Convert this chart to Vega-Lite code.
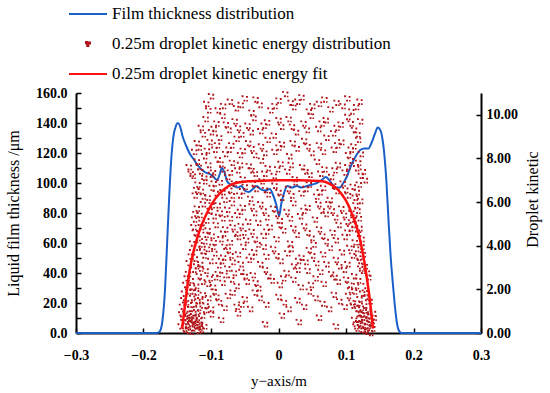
{
  "$schema": "https://vega.github.io/schema/vega-lite/v6.json",
  "autosize": {"type": "none"},
  "width": 405,
  "height": 240,
  "padding": {"left": 76, "top": 93, "right": 69, "bottom": 60},
  "background": "white",
  "config": {
    "view": {"stroke": null},
    "font": "Liberation Serif",
    "axis": {"grid": false, "domainColor": "black", "domainWidth": 2, "tickColor": "black", "tickWidth": 1.5,
      "labelFont": "Liberation Serif", "labelFontSize": 14, "labelFontWeight": "bold", "labelColor": "black",
      "titleFont": "Liberation Serif", "titleFontSize": 16, "titleFontWeight": "normal", "titleColor": "black"}
  },
  "datasets": {
    "film": [
      {"x": -0.3, "t": 0}, {"x": -0.2, "t": 0}, {"x": -0.18, "t": 0}, {"x": -0.176, "t": 1}, {"x": -0.172, "t": 8},
      {"x": -0.168, "t": 30}, {"x": -0.165, "t": 60}, {"x": -0.162, "t": 90}, {"x": -0.159, "t": 115}, {"x": -0.156, "t": 130},
      {"x": -0.152, "t": 138}, {"x": -0.149, "t": 140}, {"x": -0.146, "t": 138}, {"x": -0.142, "t": 131}, {"x": -0.137, "t": 125},
      {"x": -0.132, "t": 120}, {"x": -0.126, "t": 116}, {"x": -0.12, "t": 112}, {"x": -0.114, "t": 109}, {"x": -0.108, "t": 107},
      {"x": -0.102, "t": 106}, {"x": -0.096, "t": 104}, {"x": -0.091, "t": 102}, {"x": -0.087, "t": 106}, {"x": -0.084, "t": 110},
      {"x": -0.08, "t": 107}, {"x": -0.076, "t": 101}, {"x": -0.071, "t": 99}, {"x": -0.066, "t": 98}, {"x": -0.06, "t": 97},
      {"x": -0.055, "t": 98}, {"x": -0.05, "t": 95}, {"x": -0.044, "t": 94}, {"x": -0.038, "t": 96}, {"x": -0.032, "t": 98},
      {"x": -0.027, "t": 96}, {"x": -0.02, "t": 95}, {"x": -0.013, "t": 96}, {"x": -0.008, "t": 92}, {"x": -0.003, "t": 85},
      {"x": 0.001, "t": 78}, {"x": 0.004, "t": 86}, {"x": 0.008, "t": 93}, {"x": 0.013, "t": 98}, {"x": 0.02, "t": 97},
      {"x": 0.027, "t": 98}, {"x": 0.034, "t": 97}, {"x": 0.042, "t": 98}, {"x": 0.05, "t": 99}, {"x": 0.057, "t": 100},
      {"x": 0.064, "t": 102}, {"x": 0.07, "t": 104}, {"x": 0.075, "t": 102}, {"x": 0.08, "t": 99}, {"x": 0.086, "t": 97},
      {"x": 0.091, "t": 97}, {"x": 0.096, "t": 100}, {"x": 0.101, "t": 104}, {"x": 0.106, "t": 110}, {"x": 0.111, "t": 115},
      {"x": 0.116, "t": 119}, {"x": 0.121, "t": 122}, {"x": 0.127, "t": 123}, {"x": 0.133, "t": 123}, {"x": 0.138, "t": 127},
      {"x": 0.143, "t": 133}, {"x": 0.147, "t": 137}, {"x": 0.15, "t": 136}, {"x": 0.153, "t": 132}, {"x": 0.157, "t": 118},
      {"x": 0.16, "t": 100}, {"x": 0.163, "t": 75}, {"x": 0.166, "t": 52}, {"x": 0.169, "t": 35}, {"x": 0.172, "t": 20},
      {"x": 0.175, "t": 8}, {"x": 0.178, "t": 2}, {"x": 0.182, "t": 0}, {"x": 0.2, "t": 0}, {"x": 0.3, "t": 0}
    ],
    "fit": [
      {"x": -0.143, "k": 0.2}, {"x": -0.14, "k": 0.9}, {"x": -0.136, "k": 1.9}, {"x": -0.132, "k": 2.8}, {"x": -0.127, "k": 3.6},
      {"x": -0.121, "k": 4.3}, {"x": -0.114, "k": 4.95}, {"x": -0.106, "k": 5.5}, {"x": -0.098, "k": 5.95}, {"x": -0.09, "k": 6.3},
      {"x": -0.08, "k": 6.6}, {"x": -0.07, "k": 6.8}, {"x": -0.06, "k": 6.9}, {"x": -0.045, "k": 6.95}, {"x": -0.03, "k": 6.97},
      {"x": 0, "k": 7.0}, {"x": 0.03, "k": 7.0}, {"x": 0.05, "k": 6.98}, {"x": 0.065, "k": 6.95}, {"x": 0.075, "k": 6.85},
      {"x": 0.085, "k": 6.65}, {"x": 0.094, "k": 6.35}, {"x": 0.102, "k": 5.95}, {"x": 0.109, "k": 5.45}, {"x": 0.116, "k": 4.85},
      {"x": 0.122, "k": 4.1}, {"x": 0.127, "k": 3.3}, {"x": 0.131, "k": 2.5}, {"x": 0.135, "k": 1.6}, {"x": 0.138, "k": 0.8}, {"x": 0.14, "k": 0.2}
    ],
    "drops": [
      {"x": -0.145, "k": 0.3}, {"x": -0.142, "k": 0.7}, {"x": -0.14, "k": 0.2}, {"x": -0.138, "k": 0.9}, {"x": -0.136, "k": 0.5},
      {"x": -0.134, "k": 0.1}, {"x": -0.133, "k": 0.8}, {"x": -0.131, "k": 0.4}, {"x": -0.129, "k": 0.6}, {"x": -0.128, "k": 0.2},
      {"x": -0.126, "k": 0.9}, {"x": -0.125, "k": 0.5}, {"x": -0.123, "k": 0.3}, {"x": -0.121, "k": 0.7}, {"x": -0.119, "k": 0.1},
      {"x": -0.118, "k": 0.6}, {"x": -0.116, "k": 0.4}, {"x": -0.113, "k": 0.8}, {"x": -0.11, "k": 0.3}, {"x": -0.141, "k": 0.5},
      {"x": -0.137, "k": 0.35}, {"x": -0.132, "k": 0.65}, {"x": -0.127, "k": 0.45}, {"x": -0.122, "k": 0.95}, {"x": -0.117, "k": 0.25},
      {"x": -0.085, "k": 0.6}, {"x": -0.06, "k": 0.9}, {"x": -0.02, "k": 0.4}, {"x": 0.005, "k": 0.8}, {"x": 0.03, "k": 0.5},
      {"x": 0.06, "k": 0.7}, {"x": 0.085, "k": 0.3}, {"x": -0.1, "k": 0.85},
      {"x": 0.112, "k": 0.6}, {"x": 0.116, "k": 0.2}, {"x": 0.119, "k": 0.9}, {"x": 0.121, "k": 0.4}, {"x": 0.124, "k": 0.7},
      {"x": 0.126, "k": 0.1}, {"x": 0.128, "k": 0.5}, {"x": 0.13, "k": 0.8}, {"x": 0.132, "k": 0.3}, {"x": 0.134, "k": 0.6},
      {"x": 0.136, "k": 0.0}, {"x": 0.137, "k": 0.4}, {"x": 0.139, "k": 0.2}, {"x": 0.141, "k": 0.7}, {"x": 0.125, "k": 0.35},
      {"x": 0.133, "k": 0.95}, {"x": 0.118, "k": 0.45}, {"x": 0.129, "k": 0.15}, {"x": 0.138, "k": 0.55}, {"x": 0.122, "k": 0.85},
      {"x": -0.143, "k": 1.2}, {"x": -0.14, "k": 1.8}, {"x": -0.137, "k": 1.4}, {"x": -0.134, "k": 1.9}, {"x": -0.131, "k": 1.1},
      {"x": -0.128, "k": 1.6}, {"x": -0.125, "k": 1.3}, {"x": -0.122, "k": 1.85}, {"x": -0.119, "k": 1.15}, {"x": -0.116, "k": 1.5},
      {"x": -0.112, "k": 1.75}, {"x": -0.108, "k": 1.25}, {"x": -0.104, "k": 1.6}, {"x": -0.1, "k": 1.1}, {"x": -0.096, "k": 1.9},
      {"x": -0.088, "k": 1.4}, {"x": -0.075, "k": 1.7}, {"x": -0.062, "k": 1.2}, {"x": -0.05, "k": 1.55}, {"x": -0.035, "k": 1.85},
      {"x": -0.018, "k": 1.3}, {"x": 0.0, "k": 1.65}, {"x": 0.015, "k": 1.1}, {"x": 0.028, "k": 1.5}, {"x": 0.045, "k": 1.9},
      {"x": 0.065, "k": 1.35}, {"x": 0.082, "k": 1.75},
      {"x": 0.098, "k": 1.2}, {"x": 0.103, "k": 1.7}, {"x": 0.108, "k": 1.4}, {"x": 0.112, "k": 1.9}, {"x": 0.116, "k": 1.1},
      {"x": 0.12, "k": 1.55}, {"x": 0.124, "k": 1.8}, {"x": 0.127, "k": 1.25}, {"x": 0.13, "k": 1.6}, {"x": 0.133, "k": 1.05},
      {"x": 0.117, "k": 1.35}, {"x": 0.106, "k": 1.95},
      {"x": -0.138, "k": 2.2}, {"x": -0.134, "k": 2.7}, {"x": -0.13, "k": 2.4}, {"x": -0.126, "k": 2.9}, {"x": -0.122, "k": 2.15},
      {"x": -0.118, "k": 2.6}, {"x": -0.113, "k": 2.35}, {"x": -0.108, "k": 2.85}, {"x": -0.102, "k": 2.5}, {"x": -0.097, "k": 2.1},
      {"x": -0.09, "k": 2.7}, {"x": -0.083, "k": 2.3}, {"x": -0.076, "k": 2.95}, {"x": -0.07, "k": 2.45}, {"x": -0.062, "k": 2.15},
      {"x": -0.055, "k": 2.8}, {"x": -0.047, "k": 2.35}, {"x": -0.038, "k": 2.65}, {"x": -0.03, "k": 2.05}, {"x": -0.02, "k": 2.9},
      {"x": -0.01, "k": 2.4}, {"x": 0.002, "k": 2.2}, {"x": 0.012, "k": 2.75}, {"x": 0.022, "k": 2.45}, {"x": 0.033, "k": 2.1},
      {"x": 0.043, "k": 2.85}, {"x": 0.055, "k": 2.5}, {"x": 0.067, "k": 2.25}, {"x": 0.078, "k": 2.7}, {"x": 0.088, "k": 2.35},
      {"x": 0.097, "k": 2.9}, {"x": 0.105, "k": 2.2}, {"x": 0.112, "k": 2.6}, {"x": 0.118, "k": 2.4}, {"x": 0.124, "k": 2.85},
      {"x": 0.129, "k": 2.15}, {"x": 0.133, "k": 2.55},
      {"x": -0.133, "k": 3.2}, {"x": -0.128, "k": 3.7}, {"x": -0.124, "k": 3.4}, {"x": -0.12, "k": 3.9}, {"x": -0.116, "k": 3.15},
      {"x": -0.111, "k": 3.55}, {"x": -0.106, "k": 3.85}, {"x": -0.101, "k": 3.3}, {"x": -0.095, "k": 3.65}, {"x": -0.089, "k": 3.1},
      {"x": -0.082, "k": 3.45}, {"x": -0.075, "k": 3.8}, {"x": -0.068, "k": 3.25}, {"x": -0.06, "k": 3.6}, {"x": -0.052, "k": 3.95},
      {"x": -0.044, "k": 3.35}, {"x": -0.036, "k": 3.7}, {"x": -0.027, "k": 3.15}, {"x": -0.018, "k": 3.5}, {"x": -0.008, "k": 3.85},
      {"x": 0.003, "k": 3.3}, {"x": 0.013, "k": 3.65}, {"x": 0.023, "k": 3.05}, {"x": 0.034, "k": 3.45}, {"x": 0.045, "k": 3.8},
      {"x": 0.056, "k": 3.2}, {"x": 0.066, "k": 3.6}, {"x": 0.076, "k": 3.9}, {"x": 0.085, "k": 3.35}, {"x": 0.094, "k": 3.7},
      {"x": 0.102, "k": 3.15}, {"x": 0.109, "k": 3.55}, {"x": 0.115, "k": 3.85}, {"x": 0.12, "k": 3.3}, {"x": 0.125, "k": 3.6},
      {"x": 0.128, "k": 3.05}, {"x": -0.08, "k": 3.95}, {"x": 0.04, "k": 3.25},
      {"x": -0.128, "k": 4.1}, {"x": -0.124, "k": 4.6}, {"x": -0.12, "k": 4.35}, {"x": -0.115, "k": 4.85}, {"x": -0.11, "k": 4.2},
      {"x": -0.105, "k": 4.7}, {"x": -0.099, "k": 4.45}, {"x": -0.093, "k": 4.95}, {"x": -0.086, "k": 4.3}, {"x": -0.079, "k": 4.75},
      {"x": -0.072, "k": 4.15}, {"x": -0.064, "k": 4.55}, {"x": -0.056, "k": 4.9}, {"x": -0.048, "k": 4.25}, {"x": -0.04, "k": 4.65},
      {"x": -0.031, "k": 4.05}, {"x": -0.022, "k": 4.45}, {"x": -0.013, "k": 4.85}, {"x": -0.003, "k": 4.3}, {"x": 0.007, "k": 4.7},
      {"x": 0.017, "k": 4.1}, {"x": 0.027, "k": 4.5}, {"x": 0.038, "k": 4.9}, {"x": 0.049, "k": 4.35}, {"x": 0.06, "k": 4.75},
      {"x": 0.07, "k": 4.2}, {"x": 0.08, "k": 4.6}, {"x": 0.089, "k": 4.95}, {"x": 0.098, "k": 4.4}, {"x": 0.106, "k": 4.8},
      {"x": 0.113, "k": 4.15}, {"x": 0.118, "k": 4.55}, {"x": 0.123, "k": 4.3}, {"x": -0.06, "k": 4.4}, {"x": 0.052, "k": 4.05},
      {"x": -0.125, "k": 5.2}, {"x": -0.121, "k": 5.7}, {"x": -0.117, "k": 5.4}, {"x": -0.112, "k": 5.9}, {"x": -0.107, "k": 5.15},
      {"x": -0.102, "k": 5.6}, {"x": -0.096, "k": 5.35}, {"x": -0.09, "k": 5.85}, {"x": -0.083, "k": 5.25}, {"x": -0.076, "k": 5.65},
      {"x": -0.069, "k": 5.95}, {"x": -0.061, "k": 5.4}, {"x": -0.053, "k": 5.75}, {"x": -0.045, "k": 5.1}, {"x": -0.036, "k": 5.5},
      {"x": -0.027, "k": 5.9}, {"x": -0.018, "k": 5.3}, {"x": -0.008, "k": 5.7}, {"x": 0.002, "k": 5.15}, {"x": 0.012, "k": 5.55},
      {"x": 0.022, "k": 5.95}, {"x": 0.032, "k": 5.35}, {"x": 0.043, "k": 5.75}, {"x": 0.054, "k": 5.2}, {"x": 0.064, "k": 5.6},
      {"x": 0.074, "k": 5.9}, {"x": 0.084, "k": 5.3}, {"x": 0.093, "k": 5.7}, {"x": 0.101, "k": 5.1}, {"x": 0.108, "k": 5.5},
      {"x": 0.114, "k": 5.85}, {"x": 0.119, "k": 5.25}, {"x": -0.03, "k": 5.05}, {"x": 0.07, "k": 5.45},
      {"x": -0.124, "k": 6.3}, {"x": -0.12, "k": 6.8}, {"x": -0.115, "k": 6.5}, {"x": -0.11, "k": 6.95}, {"x": -0.105, "k": 6.2},
      {"x": -0.099, "k": 6.65}, {"x": -0.093, "k": 6.4}, {"x": -0.087, "k": 6.9}, {"x": -0.08, "k": 6.1}, {"x": -0.073, "k": 6.55},
      {"x": -0.066, "k": 6.85}, {"x": -0.058, "k": 6.3}, {"x": -0.05, "k": 6.7}, {"x": -0.042, "k": 6.15}, {"x": -0.034, "k": 6.6},
      {"x": -0.025, "k": 6.95}, {"x": -0.016, "k": 6.35}, {"x": -0.006, "k": 6.75}, {"x": 0.004, "k": 6.2}, {"x": 0.014, "k": 6.6},
      {"x": 0.024, "k": 6.9}, {"x": 0.034, "k": 6.4}, {"x": 0.045, "k": 6.8}, {"x": 0.056, "k": 6.25}, {"x": 0.066, "k": 6.65},
      {"x": 0.076, "k": 6.1}, {"x": 0.086, "k": 6.5}, {"x": 0.095, "k": 6.85}, {"x": 0.103, "k": 6.3}, {"x": 0.11, "k": 6.7},
      {"x": 0.116, "k": 6.45}, {"x": 0.121, "k": 6.05},
      {"x": -0.133, "k": 7.6}, {"x": -0.127, "k": 7.2}, {"x": -0.121, "k": 7.85}, {"x": -0.116, "k": 7.4}, {"x": -0.11, "k": 7.1},
      {"x": -0.104, "k": 7.7}, {"x": -0.097, "k": 7.35}, {"x": -0.09, "k": 7.95}, {"x": -0.083, "k": 7.5}, {"x": -0.076, "k": 7.15},
      {"x": -0.069, "k": 7.8}, {"x": -0.061, "k": 7.45}, {"x": -0.053, "k": 7.05}, {"x": -0.044, "k": 7.65}, {"x": -0.035, "k": 7.3},
      {"x": -0.026, "k": 7.9}, {"x": -0.016, "k": 7.55}, {"x": -0.007, "k": 7.2}, {"x": 0.003, "k": 7.75}, {"x": 0.013, "k": 7.4},
      {"x": 0.024, "k": 7.05}, {"x": 0.035, "k": 7.6}, {"x": 0.046, "k": 7.25}, {"x": 0.057, "k": 7.85}, {"x": 0.068, "k": 7.5},
      {"x": 0.078, "k": 7.15}, {"x": 0.088, "k": 7.7}, {"x": 0.098, "k": 7.35}, {"x": 0.107, "k": 7.9}, {"x": 0.115, "k": 7.55},
      {"x": 0.122, "k": 7.2}, {"x": 0.128, "k": 7.0},
      {"x": -0.125, "k": 8.3}, {"x": -0.118, "k": 8.5}, {"x": -0.11, "k": 8.1}, {"x": -0.102, "k": 8.75}, {"x": -0.095, "k": 8.4},
      {"x": -0.088, "k": 8.95}, {"x": -0.079, "k": 8.2}, {"x": -0.07, "k": 8.6}, {"x": -0.062, "k": 8.9}, {"x": -0.053, "k": 8.35},
      {"x": -0.045, "k": 8.7}, {"x": -0.036, "k": 8.15}, {"x": -0.026, "k": 8.55}, {"x": -0.016, "k": 8.85}, {"x": -0.006, "k": 8.3},
      {"x": 0.005, "k": 8.65}, {"x": 0.016, "k": 8.1}, {"x": 0.027, "k": 8.45}, {"x": 0.038, "k": 8.8}, {"x": 0.049, "k": 8.25},
      {"x": 0.06, "k": 8.6}, {"x": 0.071, "k": 8.95}, {"x": 0.082, "k": 8.4}, {"x": 0.093, "k": 8.75}, {"x": 0.103, "k": 8.15},
      {"x": 0.111, "k": 8.55}, {"x": 0.118, "k": 8.85},
      {"x": -0.115, "k": 9.4}, {"x": -0.108, "k": 9.8}, {"x": -0.1, "k": 9.2}, {"x": -0.092, "k": 9.6}, {"x": -0.083, "k": 9.95},
      {"x": -0.074, "k": 9.3}, {"x": -0.065, "k": 9.7}, {"x": -0.055, "k": 9.1}, {"x": -0.046, "k": 9.5}, {"x": -0.037, "k": 9.85},
      {"x": -0.027, "k": 9.25}, {"x": -0.017, "k": 9.65}, {"x": -0.007, "k": 9.05}, {"x": 0.004, "k": 9.45}, {"x": 0.015, "k": 9.8},
      {"x": 0.026, "k": 9.2}, {"x": 0.037, "k": 9.6}, {"x": 0.048, "k": 9.95}, {"x": 0.059, "k": 9.35}, {"x": 0.07, "k": 9.75},
      {"x": 0.081, "k": 9.15}, {"x": 0.092, "k": 9.55}, {"x": 0.102, "k": 9.9}, {"x": 0.112, "k": 9.3}, {"x": 0.121, "k": 9.7},
      {"x": -0.107, "k": 10.5}, {"x": -0.1, "k": 10.85}, {"x": -0.09, "k": 10.2}, {"x": -0.072, "k": 10.6}, {"x": -0.063, "k": 10.3},
      {"x": -0.05, "k": 10.75}, {"x": -0.04, "k": 10.1}, {"x": -0.028, "k": 10.45}, {"x": -0.012, "k": 10.2}, {"x": 0.0, "k": 10.65},
      {"x": 0.01, "k": 10.95}, {"x": 0.022, "k": 10.35}, {"x": 0.034, "k": 10.8}, {"x": 0.045, "k": 10.15}, {"x": 0.06, "k": 10.5},
      {"x": 0.077, "k": 10.25}, {"x": 0.095, "k": 10.4}, {"x": 0.108, "k": 10.15}, {"x": 0.12, "k": 10.6}, {"x": 0.018, "k": 10.55},
      {"x": -0.139, "k": 0.15}, {"x": -0.135, "k": 0.75}, {"x": -0.13, "k": 0.05}, {"x": -0.124, "k": 0.6}, {"x": -0.12, "k": 0.35},
      {"x": -0.115, "k": 0.15}, {"x": -0.144, "k": 0.85}, {"x": 0.114, "k": 0.3}, {"x": 0.12, "k": 0.65}, {"x": 0.127, "k": 0.85},
      {"x": 0.131, "k": 0.05}, {"x": 0.135, "k": 0.45}, {"x": 0.14, "k": 0.9}, {"x": 0.123, "k": 0.15},
      {"x": -0.141, "k": 1.5}, {"x": -0.133, "k": 1.3}, {"x": -0.127, "k": 1.9}, {"x": -0.12, "k": 1.45}, {"x": -0.11, "k": 1.05},
      {"x": -0.092, "k": 1.65}, {"x": -0.08, "k": 1.15}, {"x": -0.068, "k": 1.85}, {"x": -0.055, "k": 1.3}, {"x": -0.042, "k": 1.1},
      {"x": -0.028, "k": 1.6}, {"x": 0.008, "k": 1.4}, {"x": 0.038, "k": 1.2}, {"x": 0.055, "k": 1.6}, {"x": 0.075, "k": 1.1},
      {"x": 0.09, "k": 1.45}, {"x": 0.11, "k": 1.25}, {"x": 0.122, "k": 1.15}, {"x": 0.128, "k": 1.85}, {"x": 0.135, "k": 1.45},
      {"x": -0.136, "k": 2.5}, {"x": -0.128, "k": 2.1}, {"x": -0.116, "k": 2.95}, {"x": -0.105, "k": 2.25}, {"x": -0.094, "k": 2.55},
      {"x": -0.08, "k": 2.65}, {"x": -0.066, "k": 2.75}, {"x": -0.05, "k": 2.6}, {"x": -0.034, "k": 2.3}, {"x": -0.015, "k": 2.6},
      {"x": 0.007, "k": 2.5}, {"x": 0.028, "k": 2.9}, {"x": 0.048, "k": 2.2}, {"x": 0.062, "k": 2.8}, {"x": 0.083, "k": 2.55},
      {"x": 0.1, "k": 2.45}, {"x": 0.115, "k": 2.15}, {"x": 0.121, "k": 2.95}, {"x": 0.131, "k": 2.75},
      {"x": -0.13, "k": 3.5}, {"x": -0.122, "k": 3.05}, {"x": -0.113, "k": 3.75}, {"x": -0.098, "k": 3.95}, {"x": -0.085, "k": 3.3},
      {"x": -0.071, "k": 3.55}, {"x": -0.056, "k": 3.15}, {"x": -0.04, "k": 3.5}, {"x": -0.022, "k": 3.95}, {"x": -0.003, "k": 3.55},
      {"x": 0.018, "k": 3.85}, {"x": 0.029, "k": 3.3}, {"x": 0.05, "k": 3.55}, {"x": 0.071, "k": 3.15}, {"x": 0.09, "k": 3.05},
      {"x": 0.105, "k": 3.9}, {"x": 0.118, "k": 3.45}, {"x": 0.123, "k": 3.95},
      {"x": -0.126, "k": 4.85}, {"x": -0.117, "k": 4.05}, {"x": -0.108, "k": 4.5}, {"x": -0.096, "k": 4.15}, {"x": -0.082, "k": 4.55},
      {"x": -0.068, "k": 4.85}, {"x": -0.052, "k": 4.6}, {"x": -0.035, "k": 4.3}, {"x": -0.018, "k": 4.65}, {"x": 0.002, "k": 4.95},
      {"x": 0.022, "k": 4.8}, {"x": 0.043, "k": 4.6}, {"x": 0.065, "k": 4.45}, {"x": 0.085, "k": 4.25}, {"x": 0.102, "k": 4.6},
      {"x": 0.11, "k": 4.95}, {"x": 0.12, "k": 4.8},
      {"x": -0.123, "k": 5.45}, {"x": -0.114, "k": 5.05}, {"x": -0.099, "k": 5.85}, {"x": -0.087, "k": 5.5}, {"x": -0.072, "k": 5.25},
      {"x": -0.057, "k": 5.55}, {"x": -0.04, "k": 5.8}, {"x": -0.022, "k": 5.6}, {"x": -0.003, "k": 5.45}, {"x": 0.017, "k": 5.25},
      {"x": 0.037, "k": 5.6}, {"x": 0.059, "k": 5.9}, {"x": 0.079, "k": 5.6}, {"x": 0.097, "k": 5.4}, {"x": 0.111, "k": 5.2},
      {"x": 0.117, "k": 5.6},
      {"x": -0.122, "k": 6.55}, {"x": -0.112, "k": 6.25}, {"x": -0.096, "k": 6.85}, {"x": -0.083, "k": 6.45}, {"x": -0.069, "k": 6.3},
      {"x": -0.054, "k": 6.5}, {"x": -0.038, "k": 6.85}, {"x": -0.02, "k": 6.55}, {"x": 0.0, "k": 6.45}, {"x": 0.019, "k": 6.3},
      {"x": 0.04, "k": 6.6}, {"x": 0.061, "k": 6.45}, {"x": 0.081, "k": 6.75}, {"x": 0.099, "k": 6.55}, {"x": 0.113, "k": 6.2},
      {"x": 0.119, "k": 6.8},
      {"x": -0.13, "k": 7.3}, {"x": -0.118, "k": 7.6}, {"x": -0.1, "k": 7.25}, {"x": -0.086, "k": 7.75}, {"x": -0.072, "k": 7.35},
      {"x": -0.057, "k": 7.7}, {"x": -0.04, "k": 7.45}, {"x": -0.021, "k": 7.3}, {"x": -0.002, "k": 7.5}, {"x": 0.018, "k": 7.7},
      {"x": 0.04, "k": 7.4}, {"x": 0.062, "k": 7.3}, {"x": 0.083, "k": 7.45}, {"x": 0.102, "k": 7.6}, {"x": 0.118, "k": 7.8},
      {"x": 0.125, "k": 7.4},
      {"x": -0.121, "k": 8.7}, {"x": -0.106, "k": 8.35}, {"x": -0.091, "k": 8.6}, {"x": -0.074, "k": 8.4}, {"x": -0.057, "k": 8.15},
      {"x": -0.04, "k": 8.45}, {"x": -0.021, "k": 8.25}, {"x": 0.0, "k": 8.5}, {"x": 0.021, "k": 8.7}, {"x": 0.043, "k": 8.55},
      {"x": 0.066, "k": 8.3}, {"x": 0.087, "k": 8.6}, {"x": 0.107, "k": 8.4}, {"x": 0.122, "k": 8.2},
      {"x": -0.112, "k": 9.1}, {"x": -0.096, "k": 9.35}, {"x": -0.078, "k": 9.55}, {"x": -0.06, "k": 9.4}, {"x": -0.041, "k": 9.2},
      {"x": -0.022, "k": 9.5}, {"x": 0.0, "k": 9.75}, {"x": 0.02, "k": 9.45}, {"x": 0.042, "k": 9.3}, {"x": 0.064, "k": 9.6},
      {"x": 0.086, "k": 9.4}, {"x": 0.107, "k": 9.6}, {"x": 0.117, "k": 9.1},
      {"x": -0.104, "k": 10.2}, {"x": -0.082, "k": 10.4}, {"x": -0.056, "k": 10.45}, {"x": -0.034, "k": 10.7}, {"x": -0.006, "k": 10.4},
      {"x": 0.028, "k": 10.6}, {"x": 0.05, "k": 10.4}, {"x": 0.068, "k": 10.7}, {"x": 0.086, "k": 10.55}, {"x": 0.102, "k": 10.75},
      {"x": 0.115, "k": 10.35}
    ]
  },
  "layer": [
    {
      "data": {"name": "film"},
      "mark": {"type": "line", "strokeWidth": 2, "interpolate": "monotone"},
      "encoding": {
        "x": {"field": "x", "type": "quantitative",
          "scale": {"domain": [-0.3, 0.3], "nice": false, "zero": false},
          "axis": {"title": "y\u2212axis/m", "titleFontSize": 15, "values": [-0.3, -0.25, -0.2, -0.15, -0.1, -0.05, 0, 0.05, 0.1, 0.15, 0.2, 0.25, 0.3],
            "labelExpr": "abs(round(datum.value*100)) % 10 == 5 ? '' : (datum.value == 0 ? '0' : format(datum.value, '.1f'))",
            "tickSize": -5, "labelPadding": 20, "titlePadding": 11, "labelFlush": false}},
        "y": {"field": "t", "type": "quantitative",
          "scale": {"domain": [0, 160], "nice": false},
          "axis": {"title": "Liquid film thickness /\u03bcm", "orient": "left",
            "values": [0, 10, 20, 30, 40, 50, 60, 70, 80, 90, 100, 110, 120, 130, 140, 150, 160],
            "labelExpr": "datum.value % 20 == 0 ? format(datum.value, '.1f') : ''",
            "tickSize": -5, "labelPadding": 14, "titlePadding": 14}},
        "color": {"datum": "Film thickness distribution", "type": "nominal",
          "scale": {"domain": ["Film thickness distribution", "0.25m droplet kinetic energy distribution", "0.25m droplet kinetic energy fit"],
            "range": ["#1a5fc8", "#b01419", "#ff1010"]},
          "legend": {"orient": "none", "legendX": -8, "legendY": -99, "title": null, "padding": 0,
            "labelFont": "Liberation Serif", "labelFontSize": 17, "labelColor": "black", "labelLimit": 500, "labelOffset": 4,
            "symbolType": "stroke", "symbolSize": 1444, "symbolStrokeWidth": 2, "rowPadding": 2,
            "encode": {"symbols": {"update": {
              "shape": {"signal": "datum.label === '0.25m droplet kinetic energy distribution' ? 'M-1,-1h0.6v0.6h-0.6z M0.4,-0.8h0.6v0.6h-0.6z M-0.4,0.4h0.6v0.6h-0.6z' : 'stroke'"},
              "size": {"signal": "datum.label === '0.25m droplet kinetic energy distribution' ? 16 : 1444"},
              "fill": {"signal": "datum.label === '0.25m droplet kinetic energy distribution' ? '#b01419' : 'transparent'"},
              "stroke": {"signal": "datum.label === '0.25m droplet kinetic energy distribution' ? 'transparent' : (datum.label === 'Film thickness distribution' ? '#1a2a8c' : '#ff1010')"},
              "strokeWidth": {"value": 2}
            }}}}
        }
      }
    },
    {
      "layer": [
        {
          "data": {"name": "drops"},
          "mark": {"type": "point", "shape": "M-1,-1h0.6v0.6h-0.6z M0.4,-0.8h0.6v0.6h-0.6z M-0.4,0.4h0.6v0.6h-0.6z M0.5,0.5h0.5v0.5h-0.5z", "size": 40, "filled": true, "opacity": 1},
          "encoding": {
            "x": {"field": "x", "type": "quantitative"},
            "y": {"field": "k", "type": "quantitative"},
            "color": {"datum": "0.25m droplet kinetic energy distribution", "type": "nominal"}
          }
        },
        {
          "data": {"name": "fit"},
          "mark": {"type": "line", "strokeWidth": 2.5, "interpolate": "monotone"},
          "encoding": {
            "x": {"field": "x", "type": "quantitative"},
            "y": {"field": "k", "type": "quantitative",
              "scale": {"domain": [0, 11], "nice": false},
              "axis": {"title": "Droplet kinetic", "orient": "right", "titleAngle": 270,
                "values": [0, 1, 2, 3, 4, 5, 6, 7, 8, 9, 10, 11],
                "labelExpr": "datum.value % 2 == 0 ? format(datum.value, '.2f') : ''",
                "tickSize": -5, "labelPadding": 10, "titlePadding": 23, "titleY": 106, "titleBaseline": "bottom"}},
            "color": {"datum": "0.25m droplet kinetic energy fit", "type": "nominal"}
          }
        }
      ]
    }
  ],
  "resolve": {"scale": {"y": "independent"}}
}
